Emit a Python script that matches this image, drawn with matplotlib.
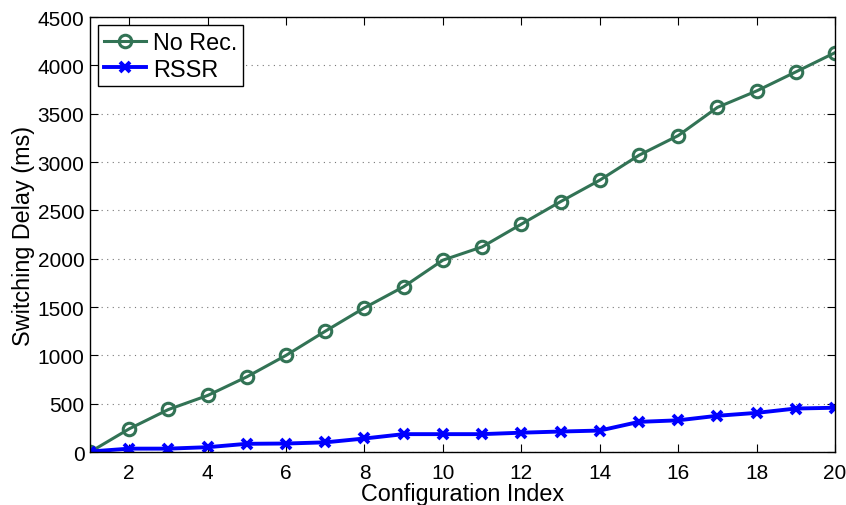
import numpy as np
import matplotlib
matplotlib.use('Agg')
import matplotlib.pyplot as plt

plt.rcParams['font.family'] = ['Liberation Sans', 'DejaVu Sans']

configIdx = np.arange(1, 21)
noRec = [0, 240, 440, 585, 778, 1000, 1250, 1492, 1710, 1985,
         2122, 2357, 2590, 2812, 3070, 3273, 3565, 3735, 3932, 4131]
rssr = [5, 35, 35, 50, 85, 88, 100, 140, 185, 185,
        185, 200, 212, 222, 312, 328, 375, 405, 450, 458]

fig = plt.figure(figsize=(8.46, 5.06), dpi=100)
ax = fig.add_axes([0.1064, 0.1047, 0.8806, 0.8597])

ax.plot(configIdx, noRec, '-o', color='#327355', lw=2.2, ms=9,
        mew=2.2, mfc='none', label='No Rec.')
ax.plot(configIdx, rssr, '-x', color='#0000ff', lw=2.8, ms=7,
        mew=2.8, label='RSSR')

ax.set_xlim(1, 20)
ax.set_ylim(0, 4500)
ax.set_xticks(np.arange(2, 21, 2))
ax.set_yticks(np.arange(0, 4501, 500))
ax.yaxis.grid(True, linestyle=(0, (1, 4)), color='#777777', lw=0.8)
ax.tick_params(direction='in', top=True, right=True, labelsize=15, length=6)
ax.tick_params(axis='x', pad=8)
ax.tick_params(axis='y', pad=4)
for s in ax.spines.values():
    s.set_linewidth(1.0)

ax.set_xlabel('Configuration Index', fontsize=16.8, labelpad=0)
ax.set_ylabel('Switching Delay (ms)', fontsize=16.8, labelpad=2)

leg = ax.legend(loc='upper left', fontsize=16.8, fancybox=False,
                edgecolor='black', framealpha=1, borderaxespad=0.35,
                handlelength=1.8, handletextpad=0.3, borderpad=0.25,
                labelspacing=0.15)
leg.get_frame().set_linewidth(1.0)

fig.savefig('out.png', dpi=100)
